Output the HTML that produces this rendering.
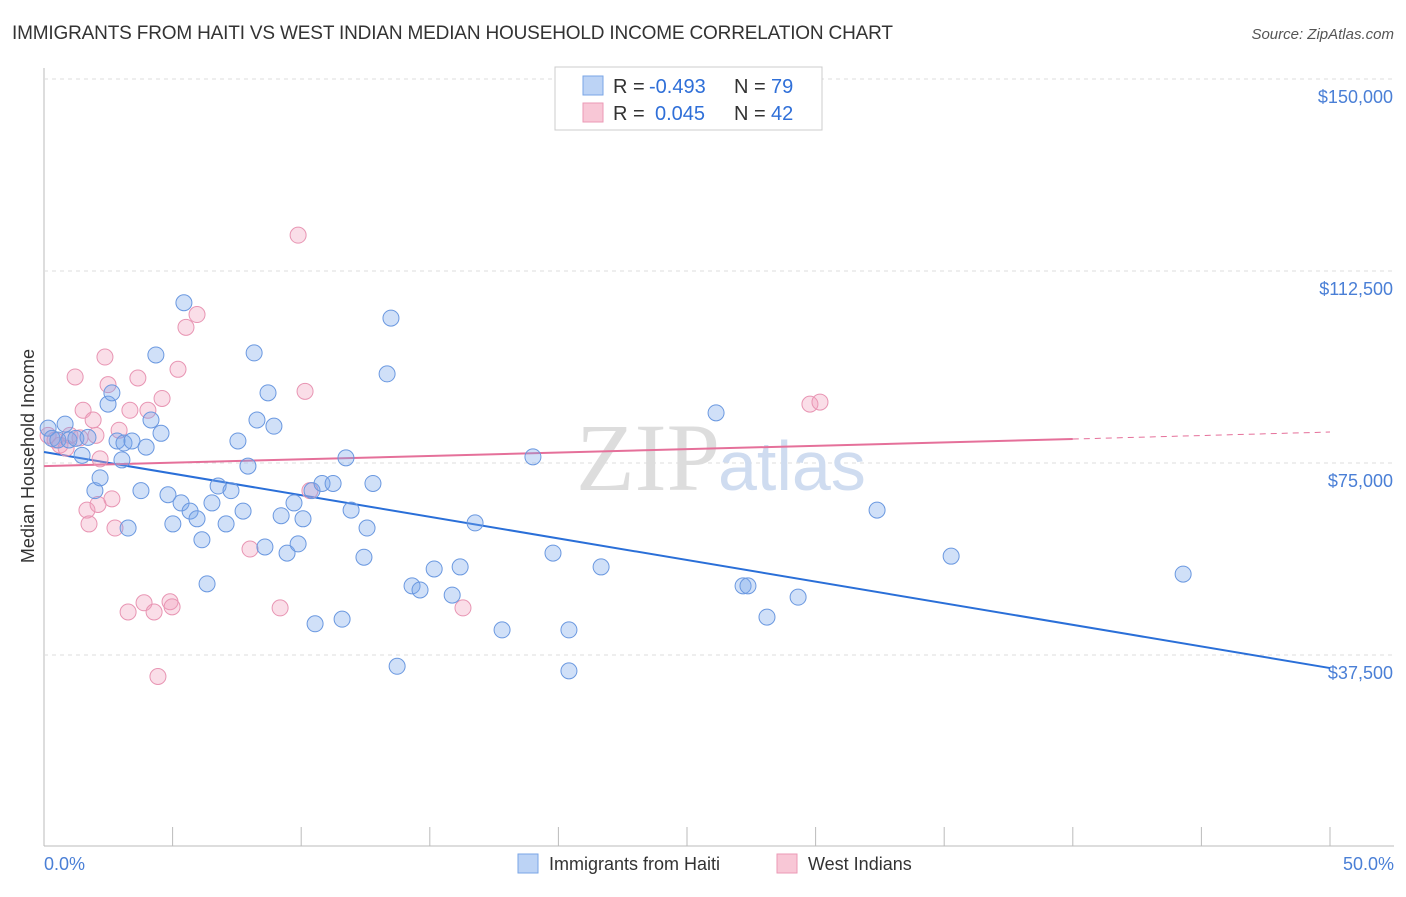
<!DOCTYPE html>
<html><head><meta charset="utf-8"><style>
body{margin:0;background:#fff;font-family:"Liberation Sans",sans-serif;}
</style></head><body>
<svg id="chart" width="1406" height="892" xmlns="http://www.w3.org/2000/svg" font-family="Liberation Sans, sans-serif">
<text x="12" y="39" font-size="19" fill="#333" textLength="881">IMMIGRANTS FROM HAITI VS WEST INDIAN MEDIAN HOUSEHOLD INCOME CORRELATION CHART</text>
<text x="1394" y="39" font-size="15" fill="#555" text-anchor="end" font-style="italic">Source: ZipAtlas.com</text>
<g id="grid"></g>
<text x="720" y="490" font-size="96" fill="#ddd" text-anchor="end" font-family="Liberation Serif, serif">ZIP</text>
<text x="718" y="490" font-size="70" fill="#cfdcf0">atlas</text>
<g id="lines"></g>
<g id="points"></g>
<text transform="translate(34,456) rotate(-90)" font-size="18" fill="#333" text-anchor="middle">Median Household Income</text>
<text x="44" y="870" font-size="18" fill="#4a7fd6">0.0%</text>
<text x="1394" y="870" font-size="18" fill="#4a7fd6" text-anchor="end">50.0%</text>
<g font-size="20">
<rect x="555" y="67" width="267" height="63" fill="#fff" stroke="#ccc"/>
<rect x="583" y="76" width="20" height="19" fill="#bcd3f5" stroke="#7aa6e6"/>
<text x="613" y="93" fill="#333">R =</text>
<text x="649" y="93" fill="#2f6fd8">-0.493</text>
<text x="734" y="93" fill="#333">N =</text>
<text x="771" y="93" fill="#2f6fd8">79</text>
<rect x="583" y="103" width="20" height="19" fill="#f8c7d6" stroke="#eb9ab6"/>
<text x="613" y="120" fill="#333">R =</text>
<text x="655" y="120" fill="#2f6fd8">0.045</text>
<text x="734" y="120" fill="#333">N =</text>
<text x="771" y="120" fill="#2f6fd8">42</text>
</g>
<g>
<rect x="518" y="854" width="20" height="19" fill="#bcd3f5" stroke="#7aa6e6"/>
<text x="549" y="870" font-size="18" fill="#333">Immigrants from Haiti</text>
<rect x="777" y="854" width="20" height="19" fill="#f8c7d6" stroke="#eb9ab6"/>
<text x="808" y="870" font-size="18" fill="#333">West Indians</text>
</g>
</svg>
<script>
const yTicks=[37500,75000,112500,150000];
const yTickLabels=["$37,500","$75,000","$112,500","$150,000"];
const xTicks=[0,5,10,15,20,25,30,35,40,45,50];
const blueX=[0.16,0.31,0.54,0.82,0.97,1.24,1.48,1.71,1.98,2.18,2.49,2.64,2.84,3.03,3.11,3.27,3.42,3.77,3.97,4.16,4.35,4.55,4.82,5.01,5.33,5.44,5.68,5.95,6.14,6.34,6.53,6.77,7.08,7.27,7.54,7.74,7.93,8.17,8.28,8.59,8.71,8.94,9.22,9.45,9.72,9.88,10.07,10.42,10.54,10.81,11.24,11.59,11.74,11.94,12.44,12.56,12.79,13.34,13.49,13.73,14.31,14.62,15.17,15.87,16.18,16.76,17.81,19.01,19.79,20.41,20.41,21.66,26.13,27.18,27.37,28.11,29.32,32.39,35.27,44.29];
const blueY=[81800,79800,79500,82600,79500,79800,76500,80000,69600,72100,86500,88700,79300,75600,78900,62300,79300,69600,78100,83400,96100,80800,68800,63100,67200,106300,65600,64100,60000,51400,67200,70500,63100,69600,79300,65600,74400,96500,83400,58600,88700,82200,64700,57400,67200,59200,64100,69600,43600,71000,71000,44500,76000,65800,56600,62300,71000,92400,103300,35300,51000,50200,54300,49200,54700,63300,42400,76200,57400,42400,34400,54700,84800,51000,51000,44900,48800,65800,56800,53300];
const pinkX=[0.16,0.43,0.62,0.86,1.01,1.21,1.40,1.52,1.67,1.75,1.91,2.02,2.10,2.18,2.37,2.49,2.64,2.76,2.92,3.27,3.34,3.65,3.89,4.04,4.28,4.43,4.59,4.90,4.98,5.21,5.52,5.95,8.01,9.18,9.88,10.15,10.34,16.29,29.78,30.17];
const pinkY=[80400,79500,78500,77900,80400,91800,79900,85300,65800,63100,83400,80400,66900,75800,95700,90300,68000,62300,81400,45900,85300,91600,47700,85300,45900,33300,87600,47900,46900,93300,101500,104000,58200,46700,119500,89000,69600,46700,86500,86900];
const blueLine=[77150,34950];
const pinkLine=[74400,79680,81050];
const NS="http://www.w3.org/2000/svg";
const xS=v=>44+v/50*1286;
const yS=v=>847-v/37500*192;
function mk(tag,attrs,parent){const e=document.createElementNS(NS,tag);for(const k in attrs)e.setAttribute(k,attrs[k]);parent.appendChild(e);return e;}
const grid=document.getElementById('grid');
let ax=mk('line',{x1:44,y1:68,x2:44,y2:846,stroke:'#bbb'},grid);


let bx=mk('line',{x1:44,y1:846,x2:1394,y2:846,stroke:'#bbb'},grid);


yTicks.forEach((t,i)=>{
 const g=mk('line',{x1:44,y1:yS(t),x2:1394,y2:yS(t),stroke:'#ddd','stroke-dasharray':'4,4'},grid);
 
 
 const tx=mk('text',{x:1393,y:yS(t)+24,'font-size':18,fill:'#4a7fd6','text-anchor':'end'},grid);
 tx.textContent=yTickLabels[i];
 
 
});
xTicks.forEach(t=>{
 const l=mk('line',{x1:xS(t),y1:827,x2:xS(t),y2:846,stroke:'#bbb'},grid);
 
 
});
const lines=document.getElementById('lines');
let bl=mk('line',{x1:xS(0),y1:yS(blueLine[0]),x2:xS(50),y2:yS(blueLine[1]),stroke:'#2a6fd8','stroke-width':2},lines);


let pl=mk('line',{x1:xS(0),y1:yS(pinkLine[0]),x2:xS(40),y2:yS(pinkLine[1]),stroke:'#e5709a','stroke-width':2},lines);


let pd=mk('line',{x1:xS(40),y1:yS(pinkLine[1]),x2:xS(50),y2:yS(pinkLine[2]),stroke:'#e5709a','stroke-width':1,'stroke-dasharray':'6,5'},lines);


const pts=document.getElementById('points');
pinkX.forEach((x,i)=>{
 const c=mk('circle',{cx:xS(x),cy:yS(pinkY[i]),r:8,fill:'rgba(242,160,190,0.35)',stroke:'#e895b3','stroke-width':1},pts);
 
 
});
blueX.forEach((x,i)=>{
 const c=mk('circle',{cx:xS(x),cy:yS(blueY[i]),r:8,fill:'rgba(120,165,235,0.35)',stroke:'#6a98e0','stroke-width':1},pts);
 
 
});
</script>
</body></html>
